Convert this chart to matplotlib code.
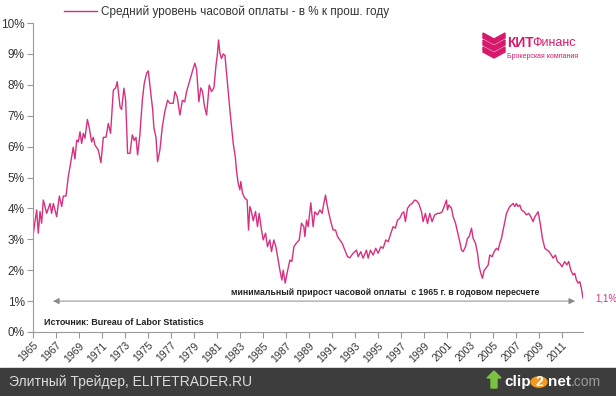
import numpy as np
import matplotlib
matplotlib.use('Agg')
import matplotlib.pyplot as plt
from matplotlib.patches import Polygon, Rectangle, Circle

plt.rcParams['font.family'] = ['Liberation Sans', 'DejaVu Sans']

## data (decimal year, % y/y)
years = [1965.03, 1965.32, 1965.46, 1965.61, 1965.75, 1965.90, 1966.19, 1966.48, 1966.62, 1966.77,
         1967.06, 1967.29, 1967.50, 1967.64, 1967.87, 1968.07, 1968.22, 1968.36, 1968.50, 1968.65,
         1968.80, 1968.94, 1969.09, 1969.23, 1969.38, 1969.52, 1969.73, 1969.90, 1970.10, 1970.25,
         1970.39, 1970.68, 1970.91, 1971.12, 1971.35, 1971.55, 1971.75, 1971.99, 1972.19, 1972.33,
         1972.57, 1972.71, 1972.91, 1973.06, 1973.23, 1973.44, 1973.64, 1973.81, 1973.96, 1974.10,
         1974.30, 1974.51, 1974.68, 1974.88, 1975.03, 1975.17, 1975.41, 1975.52, 1975.70, 1975.84,
         1976.04, 1976.25, 1976.48, 1976.71, 1976.91, 1977.20, 1977.35, 1977.55, 1977.78, 1978.00,
         1978.20, 1978.36, 1978.65, 1978.94, 1979.08, 1979.23, 1979.43, 1979.60, 1979.75, 1979.90,
         1980.10, 1980.33, 1980.53, 1980.74, 1980.91, 1981.05, 1981.14, 1981.26, 1981.40, 1981.55,
         1981.70, 1981.84, 1981.98, 1982.13, 1982.30, 1982.42, 1982.60, 1982.70, 1982.85, 1983.00,
         1983.08, 1983.23, 1983.43, 1983.63, 1983.75, 1983.87, 1984.00, 1984.16, 1984.36, 1984.53,
         1984.68, 1984.88, 1985.03, 1985.23, 1985.40, 1985.60, 1985.75, 1985.95, 1986.13, 1986.33,
         1986.48, 1986.65, 1986.77, 1986.94, 1987.10, 1987.35, 1987.52, 1987.70, 1987.90, 1988.16,
         1988.36, 1988.56, 1988.65, 1988.80, 1988.94, 1989.17, 1989.37, 1989.52, 1989.75, 1989.96,
         1990.15, 1990.30, 1990.45, 1990.59, 1990.74, 1990.91, 1991.11, 1991.32, 1991.49, 1991.69,
         1991.90, 1992.13, 1992.36, 1992.56, 1992.85, 1993.14, 1993.29, 1993.52, 1993.72, 1994.01,
         1994.16, 1994.36, 1994.59, 1994.82, 1995.03, 1995.26, 1995.46, 1995.69, 1995.90, 1996.13,
         1996.33, 1996.53, 1996.71, 1996.91, 1997.11, 1997.26, 1997.40, 1997.58, 1997.78, 1997.98,
         1998.20, 1998.36, 1998.56, 1998.80, 1998.94, 1999.14, 1999.32, 1999.52, 1999.72, 1999.95,
         2000.19, 2000.39, 2000.59, 2000.77, 2000.97, 2001.06, 2001.18, 2001.41, 2001.55, 2001.76,
         2001.93, 2002.13, 2002.28, 2002.42, 2002.63, 2002.80, 2002.95, 2003.15, 2003.29, 2003.50,
         2003.67, 2003.82, 2003.96, 2004.10, 2004.25, 2004.40, 2004.60, 2004.74, 2004.95, 2005.12,
         2005.32, 2005.47, 2005.61, 2005.76, 2005.90, 2006.05, 2006.19, 2006.34, 2006.48, 2006.63,
         2006.77, 2006.92, 2007.06, 2007.20, 2007.35, 2007.50, 2007.73, 2007.93, 2008.13, 2008.31,
         2008.51, 2008.66, 2008.86, 2008.95, 2009.15, 2009.32, 2009.53, 2009.73, 2009.90, 2010.10,
         2010.25, 2010.45, 2010.63, 2010.83, 2011.03, 2011.26, 2011.44, 2011.61, 2011.79, 2011.99,
         2012.13, 2012.28, 2012.42, 2012.57, 2012.71, 2012.80, 2012.85]
wage_growth = [3.19, 3.95, 3.20, 3.90, 3.52, 4.27, 3.84, 4.16, 3.84, 4.16,
               3.73, 4.40, 4.06, 4.40, 4.40, 5.03, 5.35, 5.67, 5.98, 5.60,
               6.21, 6.15, 6.48, 6.10, 6.43, 6.27, 6.88, 6.60, 6.15, 6.30,
               6.05, 5.89, 5.48, 6.30, 6.30, 6.75, 6.43, 7.83, 7.90, 8.10,
               7.29, 7.20, 7.89, 7.50, 5.78, 5.78, 6.38, 6.20, 6.30, 5.73,
               6.38, 7.50, 8.05, 8.37, 8.45, 8.00, 7.20, 6.60, 6.30, 5.51,
               5.89, 6.64, 7.15, 7.50, 7.40, 7.40, 7.78, 7.60, 7.02, 7.50,
               7.45, 7.78, 8.16, 8.53, 8.70, 8.50, 7.45, 7.90, 7.78, 7.35,
               7.02, 7.99, 7.78, 7.90, 8.59, 9.02, 9.45, 9.02, 8.85, 9.00,
               8.95, 8.37, 7.83, 7.18, 6.54, 6.10, 5.67, 5.24, 4.81, 4.60,
               4.87, 4.49, 4.33, 4.27, 3.30, 4.06, 3.90, 3.60, 3.90, 3.41,
               3.84, 3.30, 2.98, 3.20, 2.76, 2.98, 2.60, 2.98, 2.76, 2.33,
               2.00, 1.68, 2.00, 1.58, 1.90, 2.33, 2.28, 2.76, 2.87, 2.98,
               3.52, 3.41, 3.09, 3.62, 3.41, 4.18, 3.41, 3.89, 3.79, 3.95,
               3.84, 4.16, 4.43, 4.11, 3.84, 3.57, 3.30, 3.30, 3.09, 2.98,
               2.87, 2.65, 2.44, 2.40, 2.55, 2.65, 2.44, 2.60, 2.39, 2.65,
               2.39, 2.65, 2.49, 2.71, 2.55, 2.76, 2.71, 2.98, 2.92, 3.19,
               3.41, 3.36, 3.62, 3.68, 3.84, 3.89, 3.57, 4.00, 4.11, 4.16,
               4.27, 4.25, 4.16, 3.89, 3.57, 3.84, 3.51, 3.84, 3.57, 3.79,
               3.84, 3.84, 3.89, 4.06, 4.27, 3.95, 4.11, 4.00, 3.73, 3.52,
               3.25, 2.92, 2.65, 2.60, 2.76, 3.03, 3.09, 3.36, 3.03, 2.87,
               2.55, 2.11, 1.90, 1.74, 2.00, 2.06, 2.17, 2.49, 2.44, 2.60,
               2.71, 2.65, 2.87, 3.03, 3.30, 3.57, 3.84, 3.95, 4.06, 4.11,
               4.16, 4.06, 4.16, 4.06, 4.11, 3.95, 3.89, 3.79, 3.84, 3.73,
               3.57, 3.73, 3.84, 3.89, 3.46, 3.03, 2.71, 2.65, 2.60, 2.49,
               2.39, 2.49, 2.28, 2.22, 2.11, 2.28, 2.17, 2.28, 2.00, 1.85,
               1.90, 1.68, 1.58, 1.63, 1.41, 1.20, 1.10]

tick_years = list(range(1965, 2012, 2))
y_ticks = list(range(0, 11))

series_label = 'Средний уровень часовой оплаты - в % к прош. году'
min_note = 'минимальный прирост часовой оплаты  с 1965 г. в годовом пересчете'
source_note = 'Источник: Bureau of Labor Statistics'
last_label = '1,1%'

PINK = '#d6307f'
W, H = 616, 396


def fx(px):
    return px / W


def fy(py):
    return 1 - py / H


fig = plt.figure(figsize=(6.16, 3.96), dpi=100)
ax = fig.add_axes([fx(33), fy(332), fx(583) - fx(33), fy(23) - fy(332)])

ax.plot(years, wage_growth, color=PINK, lw=1.0, label=series_label)
ax.set_xlim(1965, 2012.85)
ax.set_ylim(0, 10)

ax.set_xticks(tick_years)
ax.set_xticklabels([str(y) for y in tick_years], rotation=45, ha='right',
                   rotation_mode='anchor', fontsize=7.5, color='#333333')
ax.set_yticks(y_ticks)
ax.set_yticklabels(['%d%%' % v for v in y_ticks], fontsize=8.5, color='#333333')
ax.tick_params(axis='both', length=4, width=0.8, color='#999999', pad=2)
for s in ['top', 'right']:
    ax.spines[s].set_visible(False)
for s in ['left', 'bottom']:
    ax.spines[s].set_color('#999999')
    ax.spines[s].set_linewidth(0.8)

## legend at the top
leg = ax.legend(loc='upper left', bbox_to_anchor=(fx(64), fy(6)), bbox_transform=fig.transFigure,
                frameon=False, fontsize=8.5, handlelength=2.8, handletextpad=0.3,
                borderpad=0, borderaxespad=0)
for t in leg.get_texts():
    t.set_color('#333333')

## arrow + notes
ax.annotate('', xy=(2012.4, 1), xytext=(1966.5, 1),
            arrowprops=dict(arrowstyle='<|-|>', color='#8a8a8a', lw=0.7, mutation_scale=9))
ax.text(1995.6, 1.29, min_note, ha='center', va='center', fontsize=6.3, fontweight='bold', color='#222222')
ax.text(2013.9, 1.1, last_label, ha='left', va='center', fontsize=7, color=PINK, clip_on=False)
ax.text(1966.0, 0.32, source_note, ha='left', va='center', fontsize=6.5, fontweight='bold', color='#222222')

## logo
for dy in [0, 7, 14]:
    pts = [(483, 33 + dy), (494, 39 + dy), (505, 33 + dy), (505, 38 + dy), (494, 44 + dy), (483, 38 + dy)]
    fig.patches.append(Polygon([(fx(a), fy(b)) for a, b in pts], closed=True,
                               transform=fig.transFigure, color='#d7196b'))
fig.text(fx(507), fy(43), 'КИТ', fontsize=10, fontweight='bold', color='#d7196b', va='center')
fig.text(fx(532), fy(43), 'Финанс', fontsize=9, color='#d7196b', va='center')
fig.text(fx(507), fy(57), 'Брокерская компания', fontsize=5, color='#d7196b', va='center')

## bottom bar
fig.patches.append(Rectangle((0, 0), 1, fy(368), transform=fig.transFigure, color='#3d3d3d'))
fig.text(fx(9), fy(382), 'Элитный Трейдер, ELITETRADER.RU', fontsize=10, color='#dcdcdc', va='center')
fig.patches.append(Polygon([(fx(a), fy(b)) for a, b in
                            [(487, 378), (494, 371), (501, 378), (497, 378), (497, 388), (491, 388), (491, 378)]],
                           closed=True, transform=fig.transFigure, color='#7cc242'))
fig.text(fx(504), fy(382), 'clip', fontsize=11, fontweight='bold', color='white', va='center')
fig.patches.append(Circle((fx(539), fy(382)), 8 / W, transform=fig.transFigure, color='#f39a1e'))
fig.text(fx(539), fy(382), '2', fontsize=10, fontweight='bold', color='white', va='center', ha='center')
fig.text(fx(548), fy(382), 'net', fontsize=11, fontweight='bold', color='white', va='center')
fig.text(fx(571), fy(382), '.com', fontsize=10, color='#9a9a9a', va='center')

fig.savefig('out.png', dpi=100)
